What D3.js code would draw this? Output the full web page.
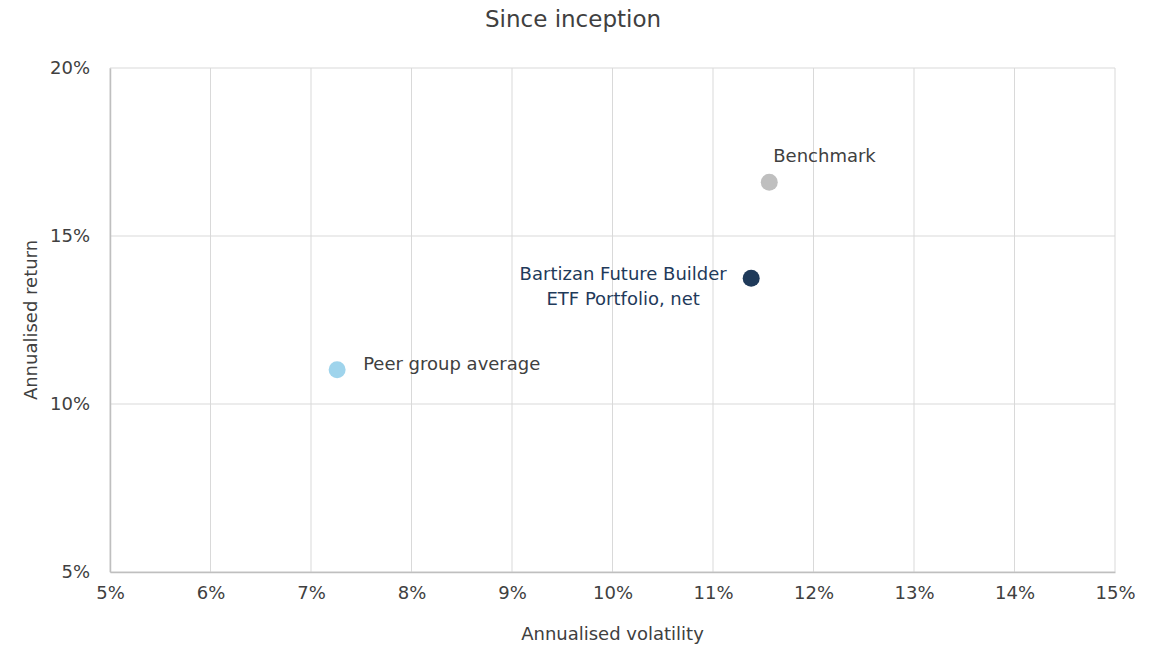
<!DOCTYPE html>
<html>
<head>
<meta charset="utf-8">
<script src="https://cdn.jsdelivr.net/npm/d3@7"></script>
<style>
  body { margin: 0; background: #fff; }
  svg { display: block; font-family: "DejaVu Sans", sans-serif; }
</style>
</head>
<body>
<svg id="chart" width="1165" height="646"></svg>
<script>
(function () {
    'use strict';

    // data
    const names = ["Benchmark", "Bartizan Future Builder|ETF Portfolio, net", "Peer group average"];
    const volatility = [11.56, 11.38, 7.26];
    const returns = [16.6, 13.74, 11.02];
    const colors = ["#bfbfbf", "#1f3a5a", "#9fd4ec"];
    const labelColors = ["#404040", "#1f3a5a", "#404040"];
    const xTicks = [5, 6, 7, 8, 9, 10, 11, 12, 13, 14, 15];
    const yTicks = [5, 10, 15, 20];

    const margin = {top: 68, right: 50, bottom: 74, left: 110};
    const width = 1165, height = 646;
    const font = "\"DejaVu Sans\", sans-serif";

    const svg = d3.select('#chart');

    const x = d3.scaleLinear().domain([5, 15]).range([margin.left, width - margin.right]);
    const y = d3.scaleLinear().domain([5, 20]).range([height - margin.bottom, margin.top]);

    // gridlines
    svg.append("g")
        .selectAll("line")
        .data(xTicks)
        .join("line")
        .attr("x1", d => x(d)).attr("x2", d => x(d))
        .attr("y1", y(5)).attr("y2", y(20))
        .attr("stroke", "#d9d9d9");
    svg.append("g")
        .selectAll("line")
        .data(yTicks)
        .join("line")
        .attr("x1", x(5)).attr("x2", x(15))
        .attr("y1", d => y(d)).attr("y2", d => y(d))
        .attr("stroke", "#d9d9d9");

    // axes
    const xAxis = svg.append("g")
        .attr("transform", `translate(0,${y(5)})`)
        .call(d3.axisBottom(x).tickValues(xTicks).tickSize(0).tickPadding(22).tickFormat(d => d + "%"));
    const yAxis = svg.append("g")
        .attr("transform", `translate(${x(5)},0)`)
        .call(d3.axisLeft(y).tickValues(yTicks).tickSize(0).tickPadding(20).tickFormat(d => d + "%"));
    [xAxis, yAxis].forEach(a => {
        a.attr("font-family", font).attr("font-size", 18);
        a.select(".domain").attr("stroke", "#bfbfbf").attr("stroke-width", 1.5);
        a.selectAll("text").attr("fill", "#404040");
    });
    xAxis.selectAll("text").attr("dy", "0.3em");

    // points
    svg.append("g")
        .selectAll("circle")
        .data(names)
        .join("circle")
        .attr("cx", (d, i) => x(volatility[i]))
        .attr("cy", (d, i) => y(returns[i]))
        .attr("r", 8.5)
        .attr("fill", (d, i) => colors[i]);

    // labels
    const labelPos = [
        {dx: 4, dy: -27, anchor: "start"},
        {dx: -128, dy: -5, anchor: "middle"},
        {dx: 26, dy: -6, anchor: "start"}
    ];
    svg.append("g")
        .selectAll("text")
        .data(names)
        .join("text")
        .attr("x", (d, i) => x(volatility[i]) + labelPos[i].dx)
        .attr("y", (d, i) => y(returns[i]) + labelPos[i].dy)
        .attr("text-anchor", (d, i) => labelPos[i].anchor)
        .attr("fill", (d, i) => labelColors[i])
        .style("font-size", "18px")
        .each(function (d, i) {
            const lines = d.split("|");
            const t = d3.select(this);
            lines.forEach((l, j) => {
                t.append("tspan")
                    .attr("x", x(volatility[i]) + labelPos[i].dx)
                    .attr("dy", j === 0 ? "0.35em" : "1.4em")
                    .text(l);
            });
        });

    // title and axis titles
    svg.append("text")
        .attr("x", 573).attr("y", 27)
        .attr("text-anchor", "middle")
        .attr("fill", "#404040")
        .style("font-size", "23px")
        .text("Since inception");

    svg.append("text")
        .attr("x", (x(5) + x(15)) / 2).attr("y", 640)
        .attr("text-anchor", "middle")
        .attr("fill", "#404040")
        .style("font-size", "18px")
        .text("Annualised volatility");

    svg.append("text")
        .attr("transform", `translate(37,${(y(5) + y(20)) / 2}) rotate(-90)`)
        .attr("text-anchor", "middle")
        .attr("fill", "#404040")
        .style("font-size", "18px")
        .text("Annualised return");
}());
</script>
</body>
</html>
